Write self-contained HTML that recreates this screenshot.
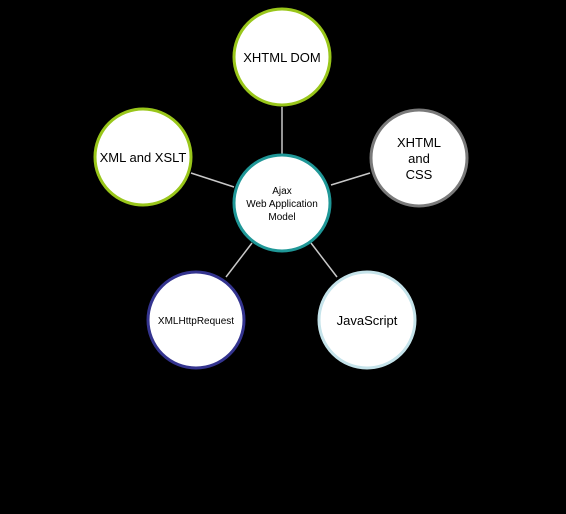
<!DOCTYPE html>
<html><head><style>body{margin:0;background:#000;}svg{display:block}</style></head>
<body>
<svg width="566" height="514" xmlns="http://www.w3.org/2000/svg" font-family="Liberation Sans, sans-serif">
<rect width="566" height="514" fill="#000"/>
<g stroke="#c8c8c8" stroke-width="1.5">
<line x1="282" y1="107" x2="282" y2="154"/>
<line x1="191" y1="173" x2="234" y2="187"/>
<line x1="370" y1="173" x2="331" y2="185"/>
<line x1="252" y1="243" x2="226" y2="277"/>
<line x1="311" y1="243" x2="337" y2="277"/>
</g>
<g fill="#fff" stroke-width="3">
<circle cx="282" cy="57" r="48" stroke="#99c61a"/>
<circle cx="143" cy="157" r="48" stroke="#99c61a"/>
<circle cx="419" cy="158" r="48" stroke="#7a7a7a"/>
<circle cx="282" cy="203" r="48" stroke="#1f9797"/>
<circle cx="196" cy="320" r="48" stroke="#34348f"/>
<circle cx="367" cy="320" r="48" stroke="#c5e3ea"/>
</g>
<g fill="#000" text-anchor="middle">
<text x="282" y="62" font-size="13">XHTML DOM</text>
<text x="143" y="162" font-size="13">XML and XSLT</text>
<text x="419" y="147" font-size="13">XHTML</text>
<text x="419" y="163" font-size="13">and</text>
<text x="419" y="179" font-size="13">CSS</text>
<text x="282" y="194" font-size="10">Ajax</text>
<text x="282" y="207" font-size="10">Web Application</text>
<text x="282" y="220" font-size="10">Model</text>
<text x="196" y="324" font-size="10">XMLHttpRequest</text>
<text x="367" y="325" font-size="13">JavaScript</text>
</g>
</svg>
</body></html>
